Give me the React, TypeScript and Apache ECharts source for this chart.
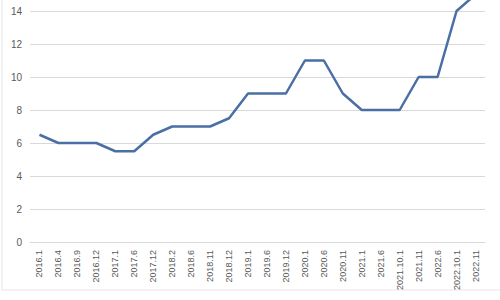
import React, { useEffect, useRef } from "react";
import * as echarts from "echarts";

const categories = [
  "2016.1", "2016.4", "2016.9", "2016.12", "2017.1", "2017.6", "2017.12", "2018.2",
  "2018.6", "2018.11", "2018.12", "2019.1", "2019.6", "2019.12", "2020.1", "2020.6",
  "2020.11", "2021.1", "2021.6", "2021.10.1", "2021.11", "2022.6", "2022.10.1", "2022.11",
];
const values = [
  6.5, 6, 6, 6, 5.5, 5.5, 6.5, 7,
  7, 7, 7.5, 9, 9, 9, 11, 11,
  9, 8, 8, 8, 10, 10, 14, 15,
];

export default function App() {
  const ref = useRef<HTMLDivElement>(null);
  useEffect(() => {
    document.body.style.margin = "0";
    const chart = echarts.init(ref.current!, null, { renderer: "svg" });
    chart.setOption({
      animation: false,
      backgroundColor: "#ffffff",
      grid: { left: 30, right: 15, top: 11, bottom: 58 },
      graphic: [
        {
          type: "rect",
          shape: { x: 2, y: -10, width: 520, height: 300 },
          style: { fill: "none", stroke: "#e6e6e6", lineWidth: 1 },
          silent: true,
        },
      ],
      xAxis: {
        type: "category",
        data: categories,
        boundaryGap: true,
        axisLine: { show: true, lineStyle: { color: "#d9d9d9", width: 1 } },
        axisTick: { show: false },
        axisLabel: {
          rotate: 90,
          interval: 0,
          margin: 8,
          fontSize: 9,
          color: "#595959",
          fontFamily: "Liberation Sans, Arial, sans-serif",
        },
      },
      yAxis: {
        type: "value",
        min: 0,
        max: 14,
        interval: 2,
        axisLine: { show: false },
        axisTick: { show: false },
        splitLine: { lineStyle: { color: "#d9d9d9", width: 1 } },
        axisLabel: {
          margin: 8,
          fontSize: 10,
          color: "#595959",
          fontFamily: "Liberation Sans, Arial, sans-serif",
        },
      },
      series: [
        {
          type: "line",
          data: values,
          symbol: "none",
          clip: false,
          lineStyle: { color: "#4a6fa5", width: 2.5 },
        },
      ],
    });
    return () => chart.dispose();
  }, []);
  return <div ref={ref} style={{ width: 500, height: 300 }} />;
}
